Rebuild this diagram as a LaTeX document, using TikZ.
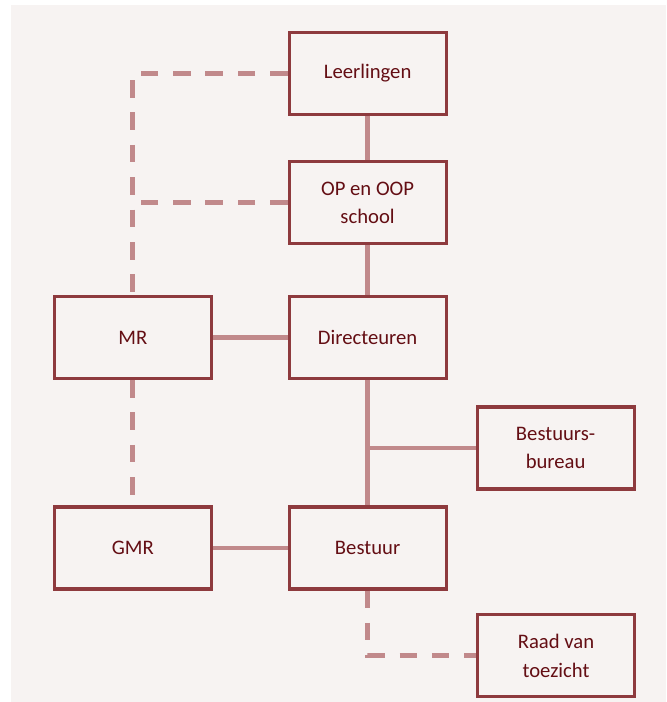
\documentclass[tikz,border=0pt]{standalone}
\usepackage{fontspec}
\setmainfont{Carlito}
\usepackage{xcolor}
\usepackage{tikz}
\usetikzlibrary{positioning}
\definecolor{boxred}{RGB}{142, 58, 62}
\definecolor{textred}{RGB}{100, 14, 20}
\definecolor{linkred}{RGB}{193, 137, 139}
\definecolor{paper}{RGB}{247, 243, 242}

\begin{document}
\begin{tikzpicture}[
  box/.style={rectangle, draw=boxred, line width=2.2pt, fill=paper, text=textred,
    minimum width=3.925cm, minimum height=2.05cm, align=center,
    font=\fontsize{14.7}{20.5}\selectfont},
  link/.style={line width=3.3pt, linkred},
  dlink/.style={line width=3.3pt, linkred, dash pattern=on 12.5pt off 10.5pt}
]

\useasboundingbox (0, 0) rectangle (16.65, -17.55);
\fill[paper] (0.275, -0.125) rectangle (16.65, -17.55);

% Middle column
\node[box] (leer)    at (9.19, -1.83)  {Leerlingen};
\node[box] (op)      at (9.19, -5.07)  {OP en OOP\\school};
\node[box] (dir)     at (9.19, -8.44)  {Directeuren};
\node[box] (bestuur) at (9.19, -13.7)  {Bestuur};

% Left column
\node[box] (mr)  at (3.32, -8.44) {MR};
\node[box] (gmr) at (3.32, -13.7) {GMR};

% Right column
\node[box] (bureau) at (13.89, -11.2)  {Bestuurs-\\bureau};
\node[box] (raad)   at (13.9, -16.39)  {Raad van\\toezicht};

% Solid lines
\draw[link] (leer) -- (op);
\draw[link] (op) -- (dir);
\draw[link] (dir) -- (bestuur);
\draw[link] (mr) -- (dir);
\draw[link] (gmr) -- (bestuur);
\draw[link] (bureau.west) -- (bureau.west -| dir.south);

% Dashed lines
\draw[dlink] (leer.west) -| (op.west -| mr.north);
\draw[dlink] (op.west) -| (mr.north);
\draw[dlink] (mr) -- (gmr);
\draw[dlink] (bestuur.south) |- (raad.west);

\end{tikzpicture}
\end{document}
